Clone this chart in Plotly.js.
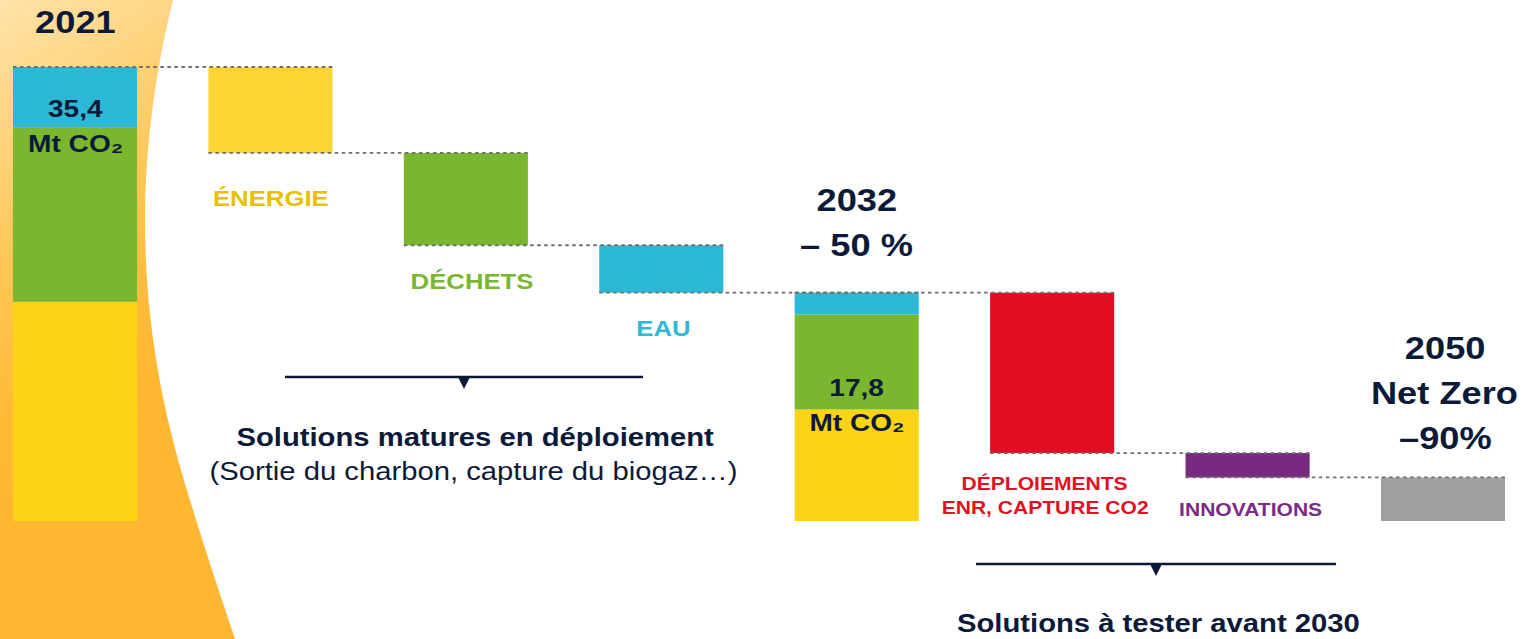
<!DOCTYPE html>
<html>
<head>
<meta charset="utf-8">
<script src="https://cdn.plot.ly/plotly-3.0.1.min.js"></script>
<style>
  html, body { margin: 0; padding: 0; background: #ffffff; overflow: hidden; }
  #wrap { width: 1530px; height: 639px; overflow: hidden; }
  #chart { width: 1308px; height: 639px; transform: scaleX(1.16972); transform-origin: 0 0; }
</style>
</head>
<body>
<div id="wrap"><div id="chart"></div></div>
<script>
// ---------- DATA ----------
const categories = ['2021', 'ÉNERGIE', 'DÉCHETS', 'EAU', '2032', 'DÉPLOIEMENTS', 'INNOVATIONS', '2050'];
const stackCategories = ['2021', '2032'];
const energieStack = [17.1, 8.7];   // Mt CO2
const dechetsStack = [13.6, 7.4];
const eauStack = [4.7, 1.7];
const totalLabels = ['35,4', '17,8'];
const stepCategories = ['ÉNERGIE', 'DÉCHETS', 'EAU', 'DÉPLOIEMENTS', 'INNOVATIONS'];
const stepValues = [6.7, 7.2, 3.7, 12.5, 1.9];   // reductions, Mt CO2
const finalCategories = ['2050'];
const finalValues = [3.4];

// ---------- STYLE ----------
const NAVY = '#0c1a3a';
const FONT = 'Liberation Sans, Arial, sans-serif';
const W = 0.635;
const stepColors = ['#FCD535', '#7BB72E', '#2CB9D6', '#E10D22', '#782A80'];

// ---------- BUILD ----------
const totals = stackCategories.map((c, i) => energieStack[i] + dechetsStack[i] + eauStack[i]);
const stepBases = [];
let level = totals[0];
stepCategories.forEach((c, i) => {
  if (i === 3) level = totals[1];
  level = level - stepValues[i];
  stepBases.push(level);
});

const traces = [];
const stackBase0 = stackCategories.map(() => 0);
traces.push({type: 'bar', x: stackCategories, y: energieStack, base: stackBase0, width: W,
  marker: {color: '#FDD415', line: {width: 0}}, hoverinfo: 'skip'});
traces.push({type: 'bar', x: stackCategories, y: dechetsStack, base: energieStack, width: W,
  marker: {color: '#7BB72E', line: {width: 0}}, hoverinfo: 'skip'});
traces.push({type: 'bar', x: stackCategories, y: eauStack,
  base: energieStack.map((v, i) => v + dechetsStack[i]), width: W,
  marker: {color: '#2CB9D6', line: {width: 0}}, hoverinfo: 'skip'});
traces.push({type: 'bar', x: stepCategories, y: stepValues, base: stepBases, width: W,
  marker: {color: stepColors, line: {width: 0}}, hoverinfo: 'skip'});
traces.push({type: 'bar', x: finalCategories, y: finalValues, base: finalCategories.map(() => 0), width: W,
  marker: {color: '#A0A0A0', line: {width: 0}}, hoverinfo: 'skip'});

// top of each bar, in category order
const tops = {};
stackCategories.forEach((c, i) => tops[c] = totals[i]);
stepCategories.forEach((c, i) => tops[c] = stepBases[i] + stepValues[i]);
finalCategories.forEach((c, i) => tops[c] = finalValues[i]);

const shapes = [];
for (let i = 0; i < categories.length - 1; i++) {
  const yv = tops[categories[i + 1]];
  shapes.push({type: 'line', xref: 'x', yref: 'y', x0: i - W / 2, x1: i + 1 + W / 2, y0: yv, y1: yv,
    line: {color: '#6e6e6e', width: 1.8, dash: 'dot'}, layer: 'above'});
}

// reference-pixel helpers (paper coordinates)
const PX = px => px / 1530;
const PY = py => 1 - py / 639;

function bracket(xa, xb, y, xc) {
  shapes.push({type: 'line', xref: 'paper', yref: 'paper', x0: PX(xa), x1: PX(xb), y0: PY(y), y1: PY(y),
    line: {color: NAVY, width: 2.5}});
  shapes.push({type: 'path', xref: 'paper', yref: 'paper',
    path: `M ${PX(xc - 6)} ${PY(y)} L ${PX(xc + 6)} ${PY(y)} L ${PX(xc)} ${PY(y + 12)} Z`,
    fillcolor: NAVY, line: {width: 0}});
}
bracket(285, 643, 377, 464);
bracket(976, 1336, 564, 1156);

const annotations = [];
function ann(text, px, py, size, color, weight) {
  annotations.push({text: text, xref: 'paper', yref: 'paper', x: PX(px), y: PY(py),
    xanchor: 'center', yanchor: 'middle', showarrow: false,
    font: {family: FONT, size: size, color: color, weight: weight || 'bold'}});
}
ann(stackCategories[0], 75, 22, 31, NAVY);
ann(totalLabels[0], 75, 108, 24, NAVY);
ann('Mt CO₂', 75, 143, 24, NAVY);
ann(stepCategories[0], 271, 198, 22, '#E8C000');
ann(stepCategories[1], 472, 281, 22, '#7AB631');
ann(stepCategories[2], 663, 328, 22, '#2DB9D7');
ann(stackCategories[1], 857, 200, 31, NAVY);
ann('– 50 %', 857, 245, 31, NAVY);
ann(totalLabels[1], 857, 387, 24, NAVY);
ann('Mt CO₂', 857, 422, 24, NAVY);
ann(stepCategories[3], 1045, 483, 18, '#E3101F');
ann('ENR, CAPTURE CO2', 1045, 508, 18, '#E3101F');
ann(stepCategories[4], 1250, 510, 18, '#7B2B86');
ann(finalCategories[0], 1445, 348, 31, NAVY);
ann('Net Zero', 1445, 393, 31, NAVY);
ann('–90%', 1445, 438, 31, NAVY);
ann('Solutions matures en déploiement', 475, 437, 25, NAVY);
ann('(Sortie du charbon, capture du biogaz…)', 474, 471, 25, NAVY, 'normal');
ann('Solutions à tester avant 2030', 1159, 623, 25, NAVY);

// background sun arc
const svg = `<svg xmlns="http://www.w3.org/2000/svg" width="1530" height="639" viewBox="0 0 1530 639" preserveAspectRatio="none">
<defs><linearGradient id="g" x1="0" y1="0" x2="0.25" y2="1">
<stop offset="0" stop-color="#FFE3AA"/><stop offset="0.4" stop-color="#FFC655"/>
<stop offset="0.65" stop-color="#FFB833"/><stop offset="1" stop-color="#FFB630"/></linearGradient></defs>
<path d="M0,0 L173,0 C158,60 145,140 145,220 C145,330 165,420 190,500 C205,550 222,600 235,639 L0,639 Z" fill="url(#g)"/>
</svg>`;

const layout = {
  width: 1308, height: 639,
  margin: {l: 0, r: 0, t: 0, b: 0},
  paper_bgcolor: '#ffffff', plot_bgcolor: 'rgba(0,0,0,0)',
  showlegend: false, barmode: 'overlay',
  xaxis: {type: 'category', categoryorder: 'array', categoryarray: categories,
    range: [-75 / 195.43, (1530 - 75) / 195.43], visible: false, fixedrange: true},
  yaxis: {range: [-118 / 12.825, 521 / 12.825], visible: false, fixedrange: true},
  shapes: shapes,
  annotations: annotations,
  images: [{source: 'data:image/svg+xml;charset=utf-8,' + encodeURIComponent(svg),
    xref: 'paper', yref: 'paper', x: 0, y: 1, sizex: 1, sizey: 1,
    sizing: 'stretch', xanchor: 'left', yanchor: 'top', layer: 'below'}]
};

Plotly.newPlot('chart', traces, layout, {staticPlot: true, displayModeBar: false});
</script>
</body>
</html>
